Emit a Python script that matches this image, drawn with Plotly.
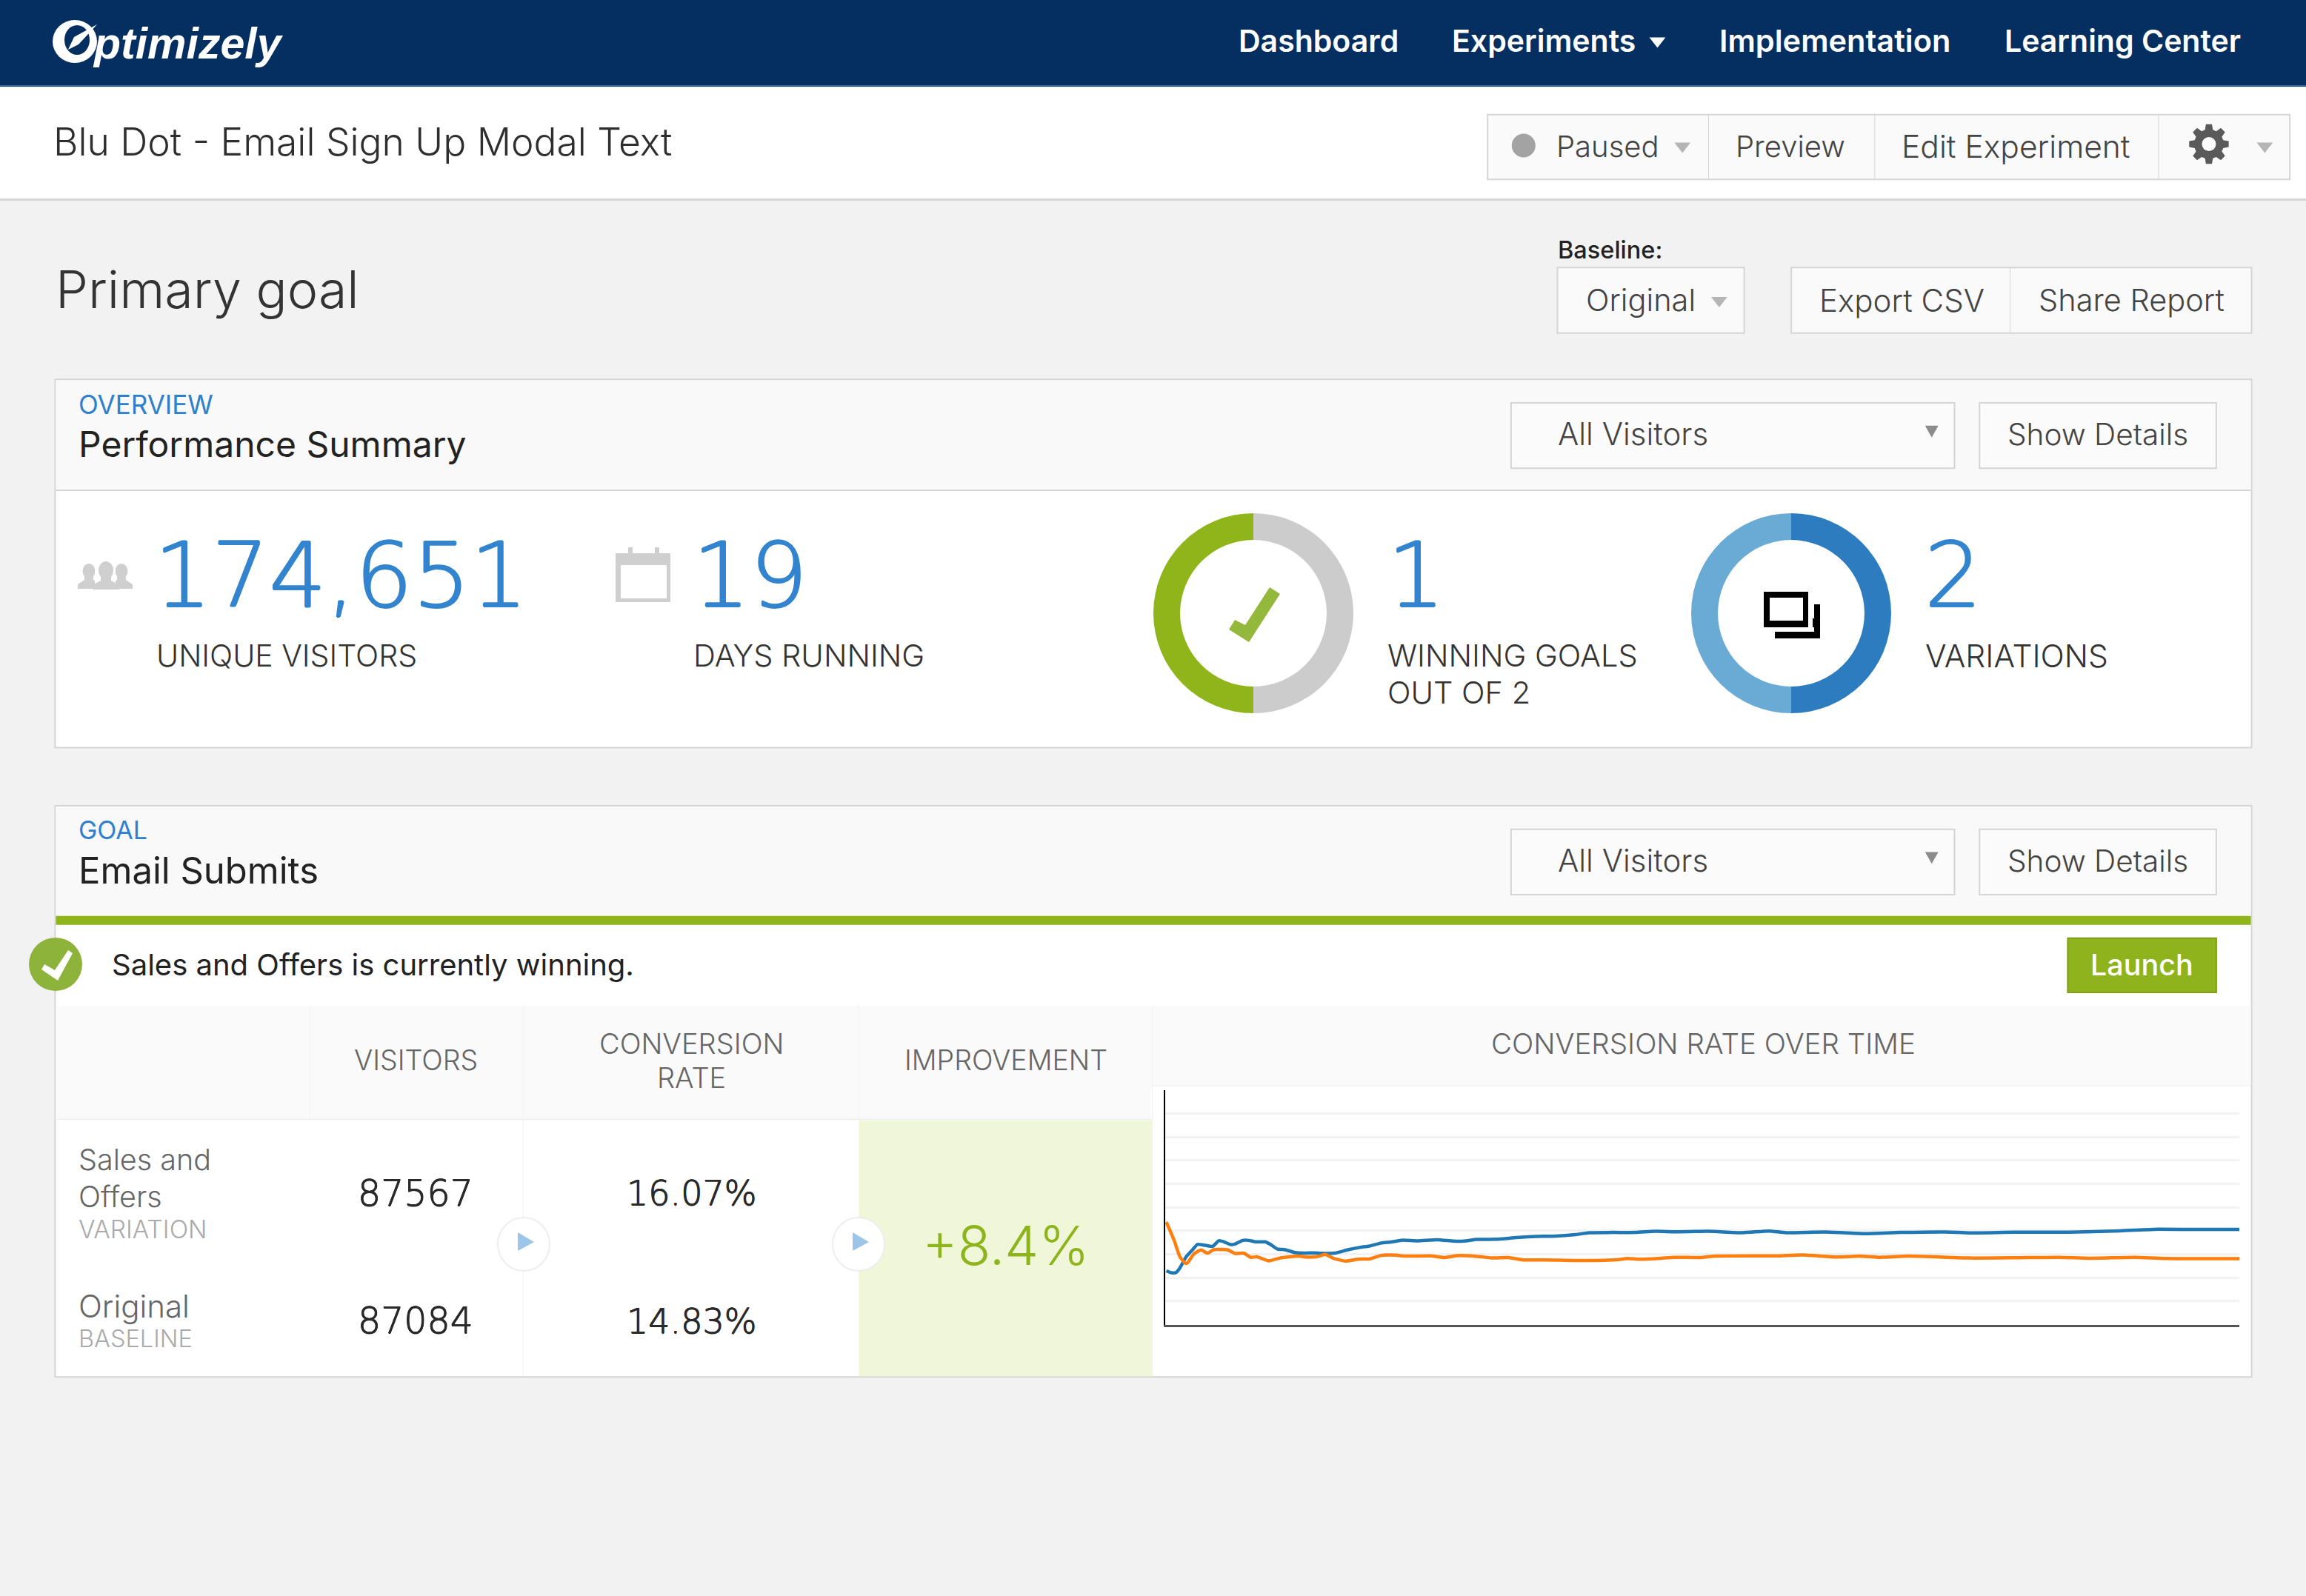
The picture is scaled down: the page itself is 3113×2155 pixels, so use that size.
import math
import plotly.graph_objects as go

W, H = 3113, 2155
K = W / 1568
FONT = "Inter"
NUM = "DejaVu Sans"

# ---- data ----
days_variation = [0.02,0.11,0.19,0.26,0.37,0.49,0.57,0.69,0.84,0.95,1.04,1.16,1.24,1.37,1.48,1.60,1.77,1.86,1.98,2.12,2.30,2.47,2.65,2.76,3.00,3.23,3.44,3.61,3.82,3.99,4.20,4.46,4.81,5.10,5.28,5.51,5.86,6.21,6.56,6.86,7.26,7.50,7.91,8.32,8.67,9.01,9.61,10.21,10.68,10.98,11.68,12.35,13.01,13.81,14.22,15.02,15.95,16.89,17.56,18.36,19.0]
rate_variation = [14.29,14.21,14.22,14.42,14.89,15.21,15.42,15.39,15.34,15.58,15.53,15.41,15.44,15.59,15.59,15.53,15.53,15.42,15.23,15.19,15.07,15.05,15.06,15.04,15.05,15.19,15.29,15.35,15.48,15.52,15.60,15.57,15.62,15.56,15.56,15.63,15.64,15.71,15.76,15.77,15.84,15.92,15.93,15.93,15.98,15.96,15.98,15.92,15.99,15.92,15.95,15.88,15.93,15.95,15.91,15.94,15.94,16.00,16.07,16.06,16.06]
days_original = [0.02,0.16,0.26,0.36,0.40,0.51,0.63,0.75,0.86,1.10,1.24,1.39,1.51,1.62,1.83,2.03,2.36,2.50,2.71,2.83,2.97,3.19,3.41,3.61,3.82,4.08,4.25,4.69,4.93,5.16,5.51,5.80,6.07,6.33,6.74,7.38,8.02,8.17,8.38,8.73,9.01,9.47,9.74,10.81,11.28,11.88,12.28,12.61,13.15,14.22,15.02,15.82,16.35,17.15,17.69,19.0]
rate_original = [16.37,15.58,14.89,14.61,14.65,15.02,15.18,15.05,15.20,15.19,15.03,15.05,14.87,14.89,14.72,14.84,14.92,14.88,14.91,14.99,14.83,14.71,14.79,14.80,14.95,14.96,14.92,14.93,14.86,14.94,14.91,14.84,14.86,14.76,14.76,14.73,14.77,14.82,14.79,14.82,14.87,14.86,14.92,14.93,14.97,14.88,14.92,14.87,14.92,14.84,14.85,14.87,14.83,14.87,14.82,14.81]
goals_labels = ["Not winning", "Winning"]
goals_values = [1, 1]
variation_labels = ["Sales and Offers", "Original"]
variation_values = [1, 1]
visitors = ["87567", "87084"]
rates = ["16.07%", "14.83%"]
improvement = "+8.4%"
nav_items = ["Dashboard", "Experiments", "Implementation", "Learning Center"]

shapes, annos = [], []
def px(x): return x / W
def py(y): return 1 - y / H

def rect(x0, y0, x1, y1, fill=None, line=None, lw=2, layer="below"):
    shapes.append(dict(type="rect", xref="paper", yref="paper", x0=px(x0*K), x1=px(x1*K),
                       y0=py(y0*K), y1=py(y1*K), fillcolor=fill or "rgba(0,0,0,0)",
                       line=dict(color=line or "rgba(0,0,0,0)", width=lw if line else 0), layer=layer))

def fullrect(x0, y0, x1, y1, fill, layer="above"):
    shapes.append(dict(type="rect", xref="paper", yref="paper", x0=px(x0), x1=px(x1),
                       y0=py(y0), y1=py(y1), fillcolor=fill, line=dict(width=0), layer=layer))

def poly(points, fill, layer="above"):
    d = "M " + " L ".join(f"{px(x):.5f},{py(y):.5f}" for x, y in points) + " Z"
    shapes.append(dict(type="path", xref="paper", yref="paper", path=d, fillcolor=fill,
                       line=dict(width=0), layer=layer))

def ell(cx, cy, rx, ry, fill, line=None, lw=0, layer="above"):
    shapes.append(dict(type="circle", xref="paper", yref="paper", x0=px(cx-rx), x1=px(cx+rx),
                       y0=py(cy-ry), y1=py(cy+ry), fillcolor=fill,
                       line=dict(color=line or "rgba(0,0,0,0)", width=lw), layer=layer))

def caret(x, y, color, w=5.5, h=3.5):
    poly([((x-w)*K, (y-h)*K), ((x+w)*K, (y-h)*K), (x*K, (y+h)*K)], color)

def txt(x, y, s, size, color="#333333", anchor="left", weight=300, family=FONT, style="normal", thick=0):
    if anchor == "left":
        x -= 0.8
    font = dict(family=family, size=size, color=color, weight=weight, style=style)
    if thick:
        font["shadow"] = ", ".join(f"{dx*thick}px {dy*thick}px 0 {color}"
                                   for dx, dy in ((1, 0), (-1, 0), (0, 1), (0, -1)))
    annos.append(dict(xref="paper", yref="paper", x=px(x*K), y=py(y*K), text=s, showarrow=False,
                      xanchor=anchor, yanchor="middle", align=anchor, font=font))

BORDER = "#d5d5d5"
LIGHT = "#eeeeee"
BTN = "#fafafa"

# ---- page frame ----
rect(0, 0, 1568, 58, "#042f60")
rect(0, 58, 1568, 59, "#0e4a82")
rect(0, 59, 1568, 135, "#ffffff")
rect(0, 135, 1568, 136.5, BORDER)

# logo
ell(101, 56, 30, 29, "#ffffff")
ell(104, 54, 17, 20, "#042f60")
poly([(131,33),(100,50),(92,67),(106,60)], "#ffffff")
txt(63, 29.5, "ptimizely", 59, "#ffffff", weight=700, family="Liberation Sans", style="italic")
txt(842, 27.5, nav_items[0], 41, "#ffffff", weight=600)
txt(987, 27.5, nav_items[1], 41, "#ffffff", weight=600)
caret(1127, 29, "#ffffff")
txt(1169, 27.5, nav_items[2], 41.5, "#ffffff", weight=600)
txt(1363, 27.5, nav_items[3], 41, "#ffffff", weight=600)

txt(36, 96, "Blu Dot - Email Sign Up Modal Text", 51.5, "#2e2e2e")

# ---- top buttons ----
rect(1011.5, 78, 1557, 122, BTN, BORDER)
for xd in (1161.5, 1274.5, 1467.5):
    rect(xd, 78, xd + 0.5, 122, BORDER)
ell(1036*K, 99*K, 16, 16, "#a3a3a3")
txt(1058, 99.5, "Paused", 40, "#444444")
caret(1144, 100.5, "#b5b5b5")
txt(1180, 99.5, "Preview", 40, "#444444")
txt(1293, 99.5, "Edit Experiment", 42.5, "#444444")

# settings gear
gx, gy, teeth = 1502*K, 98*K, 8
pts = []
for i in range(teeth):
    a = 2*math.pi*i/teeth
    for da, r in ((-0.27, 20), (-0.15, 27), (0.15, 27), (0.27, 20)):
        pts.append((gx + r*math.sin(a+da), gy - r*math.cos(a+da)))
poly(pts, "#5a5a5a")
ell(gx, gy, 9.5, 9.5, BTN)
caret(1540, 100.5, "#b5b5b5")

# ---- primary goal row ----
txt(37.5, 196.5, "Primary goal", 70, "#333333")
txt(1059, 170, "Baseline:", 32.5, "#222222", weight=500)
rect(1059, 182, 1186, 226.5, BTN, BORDER)
txt(1078, 204, "Original", 41.5, "#444444")
caret(1169, 205.5, "#b5b5b5")
rect(1218, 182, 1531, 226.5, BTN, BORDER)
rect(1366.5, 182, 1367, 226.5, BORDER)
txt(1237, 204, "Export CSV", 42, "#444444")
txt(1386, 204, "Share Report", 41.5, "#444444")

# ---- panel 1 ----
rect(37.5, 258, 1531, 508.5, "#ffffff", BORDER)
rect(38, 259, 1530.5, 333, "#f9f9f9")
rect(38, 333, 1530.5, 334, BORDER)
txt(53, 275, "OVERVIEW", 35, "#2f80cc", weight=400)
txt(53, 302, "Performance Summary", 48, "#222222", weight=400)
rect(1027.5, 274, 1329, 318.5, "#fbfbfb", BORDER)
txt(1059, 295, "All Visitors", 42, "#444444")
caret(1313.5, 293.5, "#8c8c8c", 4.5, 4)
rect(1346, 274, 1507, 318.5, "#fbfbfb", BORDER)
txt(1426.5, 295.5, "Show Details", 40.5, "#444444", anchor="center")

BLUE = "#3384cf"
txt(104.5, 391.5, "174,651", 122, BLUE, weight=200, family=NUM, thick=1.2)
txt(106, 446, "UNIQUE VISITORS", 41, "#333333")
txt(470.5, 391.5, "19", 122, BLUE, weight=200, family=NUM, thick=1.2)
txt(471, 446, "DAYS RUNNING", 41.5, "#333333")
txt(943, 391.5, "1", 122, BLUE, weight=200, family=NUM, thick=1.2)
txt(943, 446, "WINNING GOALS", 41.5, "#333333")
txt(943, 471, "OUT OF 2", 41.5, "#333333")
txt(1308.5, 391.5, "2", 122, BLUE, weight=200, family=NUM, thick=1.2)
txt(1309, 446, "VARIATIONS", 42.5, "#333333")

# users icon
GREY_I = "#cfcfcf"
def bust(cx, top, bot, hw, hh, sw):
    ell(cx, top + hh, hw, hh, GREY_I)
    poly([(cx - hw*0.7, top + hh*1.6), (cx + hw*0.7, top + hh*1.6), (cx + hw*0.7, bot - 12),
          (cx + sw, bot - 6), (cx + sw, bot), (cx - sw, bot), (cx - sw, bot - 6), (cx - hw*0.7, bot - 12)], GREY_I)
bust(120, 761, 795, 8.5, 10, 15)
bust(164, 761, 795, 8.5, 10, 15)
fullrect(128, 755, 156, 800, "#ffffff")
bust(143, 758, 796, 10, 12, 18)

# calendar icon
fullrect(831, 747, 905, 813, GREY_I)
fullrect(848, 739, 854, 747, GREY_I)
fullrect(884, 739, 890, 747, GREY_I)
fullrect(838, 763, 900, 808, "#ffffff")

# check in donut
poly([(1714,793),(1728,802),(1686,867),(1659,850),(1667,837),(1681,844)], "#93b83c")
# variations icon in donut
fullrect(2396, 816, 2457, 862, "#000000")
fullrect(2403, 823, 2447, 853, "#ffffff")
fullrect(2447, 810, 2449, 835, "#ffffff")
fullrect(2381, 799, 2441, 847, "#ffffff")
fullrect(2381, 799, 2441, 847, "#000000")
fullrect(2389, 807, 2434, 838, "#ffffff")
fullrect(2441, 847, 2449, 853, "#ffffff")
fullrect(2396, 847, 2441, 853, "#ffffff")
fullrect(2441, 810, 2447, 853, "#ffffff")

# ---- panel 2 ----
rect(37.5, 548, 1531, 936.5, "#ffffff", BORDER)
rect(38, 549, 1530.5, 623, "#f9f9f9")
rect(38, 623, 1530.5, 629, "#8fb51a")
txt(53, 564.5, "GOAL", 34, "#2f80cc", weight=400)
txt(53, 592, "Email Submits", 49, "#222222", weight=400)
rect(1027.5, 564, 1329, 608.5, "#fbfbfb", BORDER)
txt(1059, 585, "All Visitors", 42, "#444444")
caret(1313.5, 583.5, "#8c8c8c", 4.5, 4)
rect(1346, 564, 1507, 608.5, "#fbfbfb", BORDER)
txt(1426.5, 585.5, "Show Details", 40.5, "#444444", anchor="center")

ell(75, 1302, 36, 36, "#8db33a")
poly([(92,1283),(98,1287),(78,1324),(56,1309),(60,1302),(74,1310)], "#ffffff")
txt(76, 656, "Sales and Offers is currently winning.", 40, "#222222", weight=400)
rect(1406, 638, 1507, 675, "#8fb31d", "#7d9e18")
txt(1456.5, 656.5, "Launch", 39.5, "#ffffff", anchor="center", weight=500)

# table header
rect(38, 684, 783, 761, "#fafafa")
rect(783, 684, 1530.5, 738, "#fafafa")
rect(38, 761, 783, 761.7, LIGHT)
rect(783, 738, 1530.5, 738.7, LIGHT)
rect(584, 762, 783.5, 936, "#f0f7d8")
for xd in (210.5, 355.5, 583.7, 783.2):
    rect(xd, 684, xd + 0.5, 761, "#f1f1f1")
for xd in (355.5, 783.2):
    rect(xd, 761, xd + 0.5, 936, "#f1f1f1")
HDR = "#666666"
txt(283, 721, "VISITORS", 37.5, HDR, anchor="center")
txt(470, 709.5, "CONVERSION", 38, HDR, anchor="center")
txt(470, 733, "RATE", 38, HDR, anchor="center")
txt(684, 721, "IMPROVEMENT", 37.5, HDR, anchor="center")
txt(1158, 709.5, "CONVERSION RATE OVER TIME", 38.5, HDR, anchor="center")

txt(53, 789, "Sales and", 39.5, "#666666")
txt(53, 814, "Offers", 39.5, "#666666")
txt(53, 836, "VARIATION", 33.5, "#aaaaaa")
txt(53, 888.5, variation_labels[1], 42, "#666666")
txt(53, 910.5, "BASELINE", 32.5, "#aaaaaa")
txt(282.5, 811.5, visitors[0], 49, "#2a2a2a", anchor="center", weight=200, family=NUM, thick=0.5)
txt(282.5, 898.5, visitors[1], 49, "#2a2a2a", anchor="center", weight=200, family=NUM, thick=0.5)
txt(470, 811.5, rates[0], 46, "#2a2a2a", anchor="center", weight=200, family=NUM, thick=0.5)
txt(470, 898.5, rates[1], 46, "#2a2a2a", anchor="center", weight=200, family=NUM, thick=0.5)
txt(684, 847, improvement, 73, "#8db31d", anchor="center")

for cx in (707, 1159):
    ell(cx, 1680, 35, 36, "#ffffff", "#eeeeee", 2)
    poly([(cx-8, 1664), (cx+14, 1677), (cx-8, 1689)], "#9cc5e8")

# ---- traces ----
pad = 135
fig = go.Figure()
fig.add_trace(go.Scatter(x=days_variation, y=rate_variation, mode="lines", name=variation_labels[0],
                         line=dict(color="#1f77b4", width=4.5, shape="spline", smoothing=0.5),
                         hoverinfo="skip", showlegend=False))
fig.add_trace(go.Scatter(x=days_original, y=rate_original, mode="lines", name=variation_labels[1],
                         line=dict(color="#ff7f0e", width=4.5, shape="spline", smoothing=0.5),
                         hoverinfo="skip", showlegend=False))
fig.add_trace(go.Pie(labels=goals_labels, values=goals_values, hole=0.733, sort=False, direction="clockwise",
                     rotation=0, marker=dict(colors=["#cccccc", "#8fb51a"], line=dict(width=0)),
                     textinfo="none", hoverinfo="skip", showlegend=False,
                     domain=dict(x=[px(1692-pad), px(1692+pad)], y=[py(828+pad), py(828-pad)])))
fig.add_trace(go.Pie(labels=variation_labels, values=variation_values, hole=0.733, sort=False, direction="clockwise",
                     rotation=0, marker=dict(colors=["#2e7cc0", "#6aabd6"], line=dict(width=0)),
                     textinfo="none", hoverinfo="skip", showlegend=False,
                     domain=dict(x=[px(2418-pad), px(2418+pad)], y=[py(828+pad), py(828-pad)])))

fig.update_layout(
    width=W, height=H, margin=dict(l=0, r=0, t=0, b=0), autosize=False,
    paper_bgcolor="#f2f2f2", plot_bgcolor="rgba(0,0,0,0)",
    shapes=shapes, annotations=annos, hovermode=False,
    xaxis=dict(domain=[px(1573), px(3023)], range=[0, 19], showgrid=False, zeroline=False,
               showticklabels=False, ticks="", showline=True, linecolor="#555555", linewidth=2.5),
    yaxis=dict(domain=[py(1788.5), py(1472)], range=[12, 22], dtick=1, tick0=12, showgrid=True,
               gridcolor="#f2f2f2", gridwidth=3, zeroline=False, showticklabels=False, ticks="",
               showline=True, linecolor="#000000", linewidth=2),
)
fig.write_html("out.html", config=dict(displayModeBar=False),
               post_script="document.body.style.margin='0';document.documentElement.style.overflow='hidden';")
